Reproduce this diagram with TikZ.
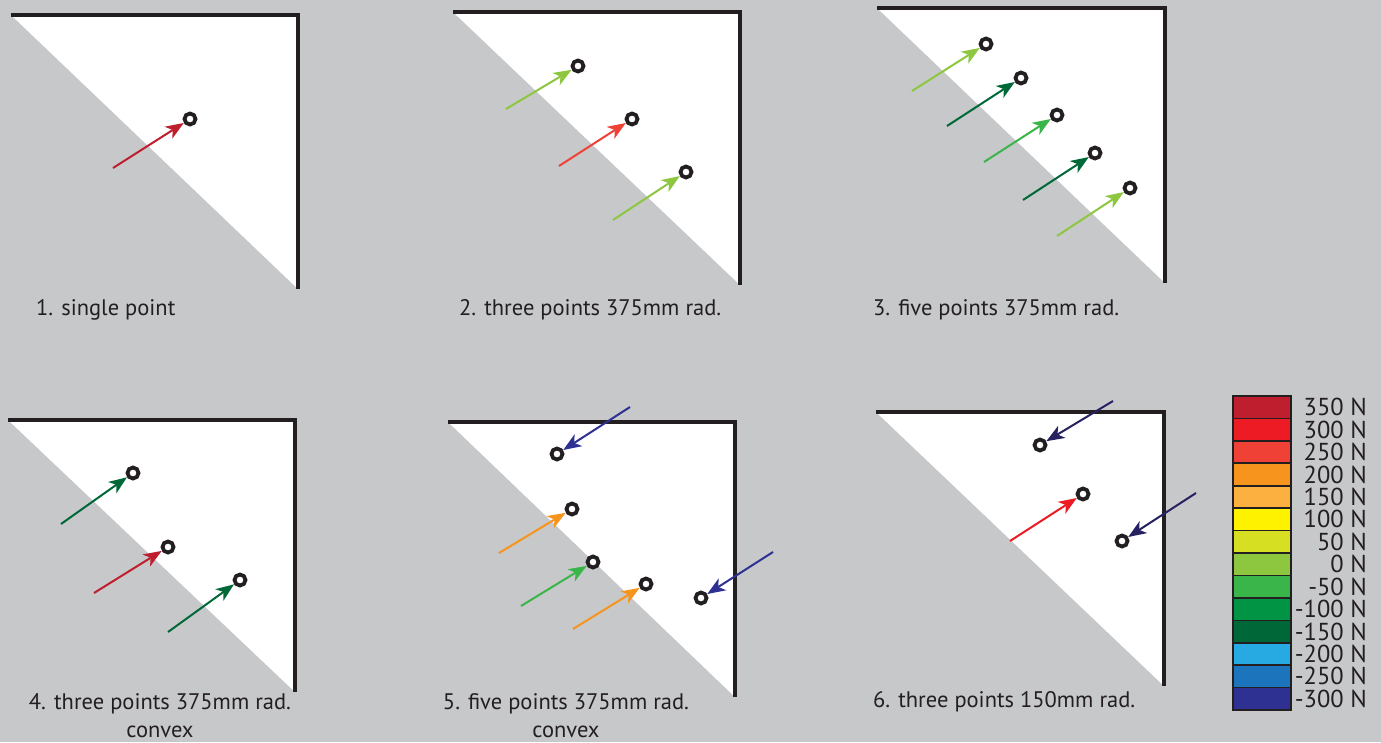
\documentclass[tikz,border=0pt]{standalone}
\usepackage{fontspec}
\setmainfont{PT Sans}
\usetikzlibrary{arrows.meta}
\definecolor{bg}{HTML}{C7C8CA}
\definecolor{ink}{HTML}{231F20}
\definecolor{cA}{HTML}{BE1E2D}
\definecolor{cB}{HTML}{ED1C24}
\definecolor{cC}{HTML}{EF4136}
\definecolor{cD}{HTML}{F7941D}
\definecolor{cE}{HTML}{FBB040}
\definecolor{cF}{HTML}{FFF200}
\definecolor{cG}{HTML}{D7DF23}
\definecolor{cH}{HTML}{8DC63F}
\definecolor{cI}{HTML}{39B54A}
\definecolor{cJ}{HTML}{009444}
\definecolor{cK}{HTML}{006838}
\definecolor{cL}{HTML}{27AAE1}
\definecolor{cM}{HTML}{1C75BC}
\definecolor{cN}{HTML}{2E3192}
\definecolor{navy}{HTML}{262262}
\tikzset{
  wall/.style={draw=ink, line width=4pt, miter limit=10},
  pt/.style={circle, draw=ink, fill=white, line width=3.8pt, minimum size=11pt, inner sep=0pt},
  force/.style={line width=2pt, -{Stealth[length=18pt, width=14pt, inset=5pt]}},
  lbl/.style={text=ink, font=\fontsize{22.5}{28}\selectfont, inner sep=0pt},
  leg/.style={text=ink, font=\fontsize{24.5}{24}\selectfont, inner sep=0pt, anchor=east},
  swatch/.style={draw=ink, line width=1.6pt},
}
\begin{document}
\begin{tikzpicture}[x=1pt, y=-1pt]
\fill[bg] (0,0) rectangle (1381,742);
\useasboundingbox (0,0) rectangle (1381,742);

% ---------- Panel 1
\fill[white] (11,15) -- (298,15) -- (298,289) -- cycle;
\draw[wall] (11,15) -- (298,15) -- (298,289);
\node[pt] (p1a) at (190,119) {};
\coordinate (s1a) at (113,168);
\draw[force, cA] (s1a) -- (p1a);
\node[lbl, anchor=west] (t1) at (36,310) {1. single point};

% ---------- Panel 2
\fill[white] (453,12) -- (740,12) -- (740,285) -- cycle;
\draw[wall] (453,12) -- (740,12) -- (740,285);
\node[pt] (p2a) at (578,66) {};
\node[pt] (p2b) at (632,119) {};
\node[pt] (p2c) at (686,172) {};
\coordinate (s2a) at (506,109);
\coordinate (s2b) at (559,166);
\coordinate (s2c) at (613,220);
\draw[force, cH] (s2a) -- (p2a);
\draw[force, cC] (s2b) -- (p2b);
\draw[force, cH] (s2c) -- (p2c);
\node[lbl, anchor=west] (t2) at (459,310) {2. three points 375mm rad.};

% ---------- Panel 3
\fill[white] (877,8) -- (1165,8) -- (1165,283) -- cycle;
\draw[wall] (877,8) -- (1165,8) -- (1165,283);
\node[pt] (p3a) at (986,44) {};
\node[pt] (p3b) at (1021,78) {};
\node[pt] (p3c) at (1057,115) {};
\node[pt] (p3d) at (1095,153) {};
\node[pt] (p3e) at (1130,188) {};
\coordinate (s3a) at (912,91);
\coordinate (s3b) at (947,126);
\coordinate (s3c) at (984,162);
\coordinate (s3d) at (1023,200);
\coordinate (s3e) at (1057,236);
\draw[force, cH] (s3a) -- (p3a);
\draw[force, cK] (s3b) -- (p3b);
\draw[force, cI] (s3c) -- (p3c);
\draw[force, cK] (s3d) -- (p3d);
\draw[force, cH] (s3e) -- (p3e);
\node[lbl, anchor=west] (t3) at (873,310) {3. five points 375mm rad.};

% ---------- Panel 4
\fill[white] (8,420) -- (295,420) -- (295,692) -- cycle;
\draw[wall] (8,420) -- (295,420) -- (295,692);
\node[pt] (p4a) at (133,473) {};
\node[pt] (p4b) at (168,547) {};
\node[pt] (p4c) at (240,580) {};
\coordinate (s4a) at (61,524);
\coordinate (s4b) at (94,593);
\coordinate (s4c) at (168,632);
\draw[force, cK] (s4a) -- (p4a);
\draw[force, cA] (s4b) -- (p4b);
\draw[force, cK] (s4c) -- (p4c);
\node[lbl, align=center] (t4) at (160,716) {4. three points 375mm rad.\\convex};

% ---------- Panel 5
\fill[white] (448,422) -- (735,422) -- (735,697) -- cycle;
\draw[wall] (448,422) -- (735,422) -- (735,697);
\node[pt] (p5a) at (557,454) {};
\node[pt] (p5b) at (572,509) {};
\node[pt] (p5c) at (593,562) {};
\node[pt] (p5d) at (646,584) {};
\node[pt] (p5e) at (701,598) {};
\coordinate (s5a) at (630,407);
\coordinate (s5b) at (499,553);
\coordinate (s5c) at (521,606);
\coordinate (s5d) at (573,629);
\coordinate (s5e) at (773,552);
\draw[force, cN] (s5a) -- (p5a);
\draw[force, cD] (s5b) -- (p5b);
\draw[force, cI] (s5c) -- (p5c);
\draw[force, cD] (s5d) -- (p5d);
\draw[force, cN] (s5e) -- (p5e);
\node[lbl, align=center] (t5) at (566,716) {5. five points 375mm rad.\\convex};

% ---------- Panel 6
\fill[white] (876,412) -- (1164,412) -- (1164,686) -- cycle;
\draw[wall] (876,412) -- (1164,412) -- (1164,686);
\node[pt] (p6a) at (1040,445) {};
\node[pt] (p6b) at (1083,494) {};
\node[pt] (p6c) at (1122,541) {};
\coordinate (s6a) at (1113,401);
\coordinate (s6b) at (1010,541);
\coordinate (s6c) at (1196,493);
\draw[force, navy] (s6a) -- (p6a);
\draw[force, cB] (s6b) -- (p6b);
\draw[force, navy] (s6c) -- (p6c);
\node[lbl, anchor=west] (t6) at (873,702) {6. three points 150mm rad.};

% ---------- Legend
\foreach \c [count=\i] in {cA,cB,cC,cD,cE,cF,cG,cH,cI,cJ,cK,cL,cM,cN}{
  \draw[swatch, fill=\c] (1233,{396+(\i-1)*22.43}) rectangle (1291,{396+\i*22.43});
}
\draw[draw=ink, line width=2.2pt] (1233,396) rectangle (1291,710);
\foreach \t [count=\i] in {350 N,300 N,250 N,200 N,150 N,100 N,50 N,0 N,-50 N,-100 N,-150 N,-200 N,-250 N,-300 N}{
  \node[leg] (l\i) at (1367,{396+(\i-0.5)*22.43}) {\t};
}
\end{tikzpicture}
\end{document}
